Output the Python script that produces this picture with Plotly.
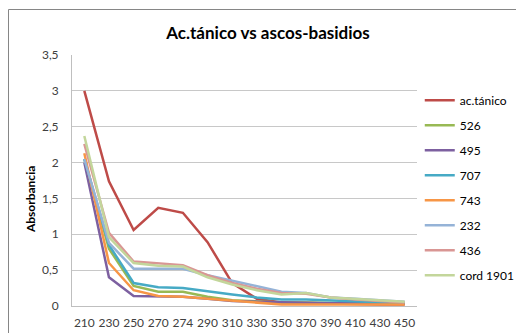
import plotly.graph_objects as go

categories = ["210", "230", "250", "270", "274", "290", "310", "330", "350", "370", "390", "410", "430", "450"]

ac_tanico = [3.0, 1.74, 1.06, 1.37, 1.30, 0.89, 0.32, 0.10, 0.05, 0.04, 0.03, 0.03, 0.02, 0.02]
s526 = [2.05, 0.80, 0.28, 0.20, 0.20, 0.13, 0.08, 0.06, 0.05, 0.05, 0.04, 0.04, 0.03, 0.03]
s495 = [2.00, 0.40, 0.14, 0.14, 0.13, 0.10, 0.07, 0.06, 0.05, 0.05, 0.04, 0.04, 0.03, 0.03]
s707 = [2.05, 0.85, 0.32, 0.26, 0.25, 0.20, 0.16, 0.12, 0.09, 0.09, 0.08, 0.07, 0.05, 0.04]
s743 = [2.13, 0.60, 0.22, 0.14, 0.13, 0.10, 0.07, 0.05, 0.02, 0.02, 0.02, 0.02, 0.02, 0.02]
s232 = [2.05, 0.88, 0.52, 0.52, 0.52, 0.43, 0.35, 0.27, 0.20, 0.18, 0.12, 0.10, 0.08, 0.06]
s436 = [2.26, 1.02, 0.62, 0.60, 0.57, 0.43, 0.32, 0.24, 0.18, 0.17, 0.12, 0.09, 0.07, 0.05]
cord1901 = [2.37, 0.96, 0.60, 0.56, 0.55, 0.40, 0.30, 0.22, 0.16, 0.18, 0.12, 0.10, 0.08, 0.06]

series_names = ["ac.tánico", "526", "495", "707", "743", "232", "436", "cord 1901"]
series_values = [ac_tanico, s526, s495, s707, s743, s232, s436, cord1901]
series_colors = ["#BE4B48", "#98B954", "#7D60A0", "#46AAC5", "#F79646", "#95B3D7", "#D99694", "#C3D69B"]

y_tickvals = [0, 0.5, 1, 1.5, 2, 2.5, 3, 3.5]
y_ticktext = ["0", "0,5", "1", "1,5", "2", "2,5", "3", "3,5"]

FONT = "Lato, 'Open Sans', Arial, sans-serif"

# The page body has an 8px margin, so the figure is laid out 8px left/up of the reference.
W, H = 516, 325
L, R, T, B = 64, 107, 47, 27
PW, PH = W - L - R, H - T - B

fig = go.Figure()
for name, vals, col in zip(series_names, series_values, series_colors):
    fig.add_trace(go.Scatter(
        x=categories, y=vals, name=name, mode="lines",
        line=dict(color=col, width=2.5), legendgroup=name,
    ))

fig.update_layout(
    width=W, height=H,
    margin=dict(l=L, r=R, t=T, b=B, autoexpand=False),
    paper_bgcolor="white", plot_bgcolor="white",
    font=dict(family=FONT, size=12, color="#404040"),
    title=dict(text="<b>Ac.tánico vs ascos-basidios</b>", x=(260 - L) / PW, xref="paper",
               xanchor="center", y=1 - 25 / H, yref="container", yanchor="middle",
               font=dict(family=FONT, size=17, color="#000000")),
    xaxis=dict(type="category", range=[-0.5, 13.5], showgrid=False, automargin=False,
               showline=True, linecolor="#BFBFBF", linewidth=1,
               ticks="", ticklabelstandoff=6, tickfont=dict(size=12, color="#404040")),
    yaxis=dict(range=[0, 3.5], tickvals=y_tickvals, ticktext=y_ticktext, automargin=False,
               showgrid=True, gridcolor="#C8C8C8", gridwidth=1,
               showline=True, linecolor="#BFBFBF", zeroline=False,
               ticks="", ticklen=0, ticklabelstandoff=10, tickfont=dict(size=12, color="#404040")),
    legend=dict(x=1.008, y=0.877, xanchor="left", yanchor="top",
                font=dict(size=12, color="#000000"), tracegroupgap=6,
                itemwidth=30, bgcolor="rgba(0,0,0,0)"),
    showlegend=True,
)

fig.add_annotation(text="<b>Absorbancia</b>", xref="paper", yref="paper",
                   x=(22 - L) / PW, y=0.422, textangle=-90, showarrow=False,
                   xanchor="center", yanchor="middle",
                   font=dict(family=FONT, size=12, color="#000000"))

fig.add_shape(type="rect", xref="paper", yref="paper",
              x0=(0.5 - L) / PW, y0=-0.3, x1=1.5, y1=(PH + T - 1.5) / PH,
              line=dict(color="#868686", width=1), fillcolor="rgba(0,0,0,0)", layer="below")

fig.write_html("out.html")
